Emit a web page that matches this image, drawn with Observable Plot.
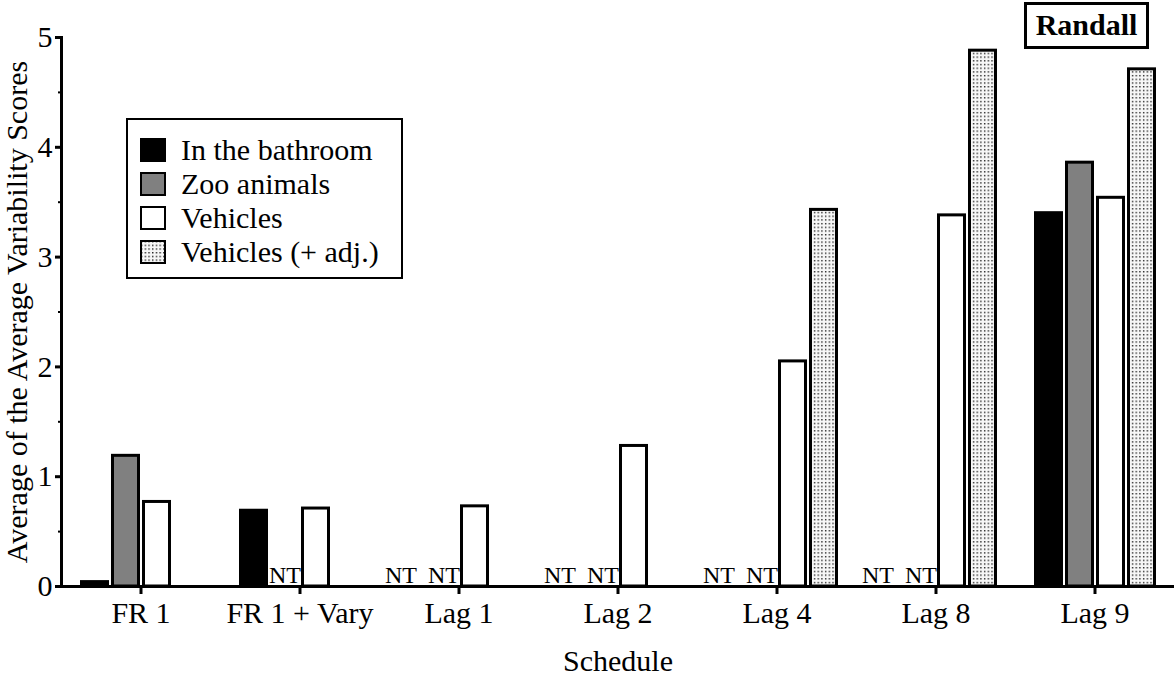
<!DOCTYPE html>
<html>
<head>
<meta charset="utf-8">
<script src="https://cdn.jsdelivr.net/npm/d3@7"></script>
<script src="https://cdn.jsdelivr.net/npm/@observablehq/plot@0.6"></script>
<style>
  html, body { margin: 0; padding: 0; background: white; }
  #wrap { position: relative; width: 1176px; height: 678px; font-family: "Liberation Serif", "DejaVu Serif", serif; color: black; }
  #wrap svg text { font-family: "Liberation Serif", serif; }
  #legend { position: absolute; left: 126px; top: 118px; width: 277px; height: 161px; box-sizing: border-box; border: 2px solid black; background: white; }
  .row { position: absolute; left: 0; height: 34px; width: 100%; }
  .row svg { position: absolute; left: 12px; top: 5px; }
  .row span { position: absolute; left: 53px; top: 0; font-size: 30px; line-height: 34px; white-space: nowrap; }
  #randall { position: absolute; left: 1024px; top: 2px; width: 125px; height: 47px; box-sizing: border-box; border: 3px solid black; font-weight: bold; font-size: 30px; line-height: 40px; text-align: center; background: white; }
</style>
</head>
<body>
<div id="wrap"></div>
<script>
// ---- data ----
const schedules = ["FR 1", "FR 1 + Vary", "Lag 1", "Lag 2", "Lag 4", "Lag 8", "Lag 9"];
const seriesNames = ["In the bathroom", "Zoo animals", "Vehicles", "Vehicles (+ adj.)"];
const bathroom    = [0.04, 0.69, "NT", "NT", "NT", "NT", 3.40];
const zooAnimals  = [1.19, "NT", "NT", "NT", "NT", "NT", 3.86];
const vehicles    = [0.77, 0.71, 0.73, 1.28, 2.05, 3.38, 3.54];
const vehiclesAdj = [null, null, null, null, 3.43, 4.88, 4.71];
const yTicks = [0, 1, 2, 3, 4, 5];
const yMinorTicks = [0.5, 1.5, 2.5, 3.5, 4.5];
const fills = ["black", "#808080", "white", "url(#dots)"];
const yLabel = "Average of the Average Variability Scores";
const xLabel = "Schedule";
const panelLabel = "Randall";

// ---- derived tables ----
const seriesValues = [bathroom, zooAnimals, vehicles, vehiclesAdj];
const bars = [], notTested = [];
seriesValues.forEach((vals, si) => {
  vals.forEach((v, i) => {
    const row = {schedule: schedules[i], series: seriesNames[si], value: v};
    if (typeof v === "number") bars.push(row);
    else if (v === "NT") notTested.push(row);
  });
});

const chart = Plot.plot({
  width: 1176,
  height: 678,
  marginLeft: 58,
  marginRight: 0,
  marginTop: 37,
  marginBottom: 92,
  style: {fontFamily: "Liberation Serif", fontSize: "30px", color: "black", background: "white"},
  fx: {domain: schedules, padding: 0},
  x: {domain: seriesNames, paddingInner: 0, paddingOuter: 0.5, axis: null},
  y: {domain: [0, 5]},
  color: {domain: seriesNames, range: fills},
  marks: [
    Plot.barY(bars, {fx: "schedule", x: "series", y: "value", fill: "series", stroke: "black", strokeWidth: 3, insetLeft: 2.5, insetRight: 2.5}),
    Plot.text(notTested.filter(d => d.series === seriesNames[0]), {fx: "schedule", x: "series", y: 0, text: "value", dx: -12, dy: -4, lineAnchor: "bottom", fontSize: 24}),
    Plot.text(notTested.filter(d => d.series === seriesNames[1]), {fx: "schedule", x: "series", y: 0, text: "value", dx: 0, dy: -4, lineAnchor: "bottom", fontSize: 24}),
    Plot.ruleY([0], {strokeWidth: 3}),
    Plot.frame({anchor: "left", strokeWidth: 3, facetAnchor: "left"}),
    Plot.axisY({ticks: yMinorTicks, tickSize: 3, strokeWidth: 2, tickFormat: () => "", label: null}),
    Plot.axisY({ticks: yTicks, tickSize: 6, tickPadding: 3, strokeWidth: 3, fontSize: 30, tickFormat: d3.format("d"),
      label: yLabel, labelAnchor: "center", labelOffset: 56, labelArrow: "none"}),
    Plot.axisFx({anchor: "bottom", tickSize: 8, tickPadding: 7, strokeWidth: 3, fontSize: 30,
      label: xLabel, labelAnchor: "center", labelOffset: 84, labelArrow: "none"})
  ]
});

// pattern for dotted fill
const NS = "http://www.w3.org/2000/svg";
function addPattern(svg) {
  const defs = document.createElementNS(NS, "defs");
  const pat = document.createElementNS(NS, "pattern");
  pat.setAttribute("id", "dots");
  pat.setAttribute("width", "3.7");
  pat.setAttribute("height", "3.7");
  pat.setAttribute("patternUnits", "userSpaceOnUse");
  const bg = document.createElementNS(NS, "rect");
  bg.setAttribute("width", "3.7"); bg.setAttribute("height", "3.7"); bg.setAttribute("fill", "#f7f7f7");
  const dot = document.createElementNS(NS, "rect");
  dot.setAttribute("x", "1"); dot.setAttribute("y", "1");
  dot.setAttribute("width", "1.3"); dot.setAttribute("height", "1.3"); dot.setAttribute("fill", "black");
  pat.appendChild(bg); pat.appendChild(dot); defs.appendChild(pat);
  svg.insertBefore(defs, svg.firstChild);
}
addPattern(chart);

const wrap = document.getElementById("wrap");
wrap.appendChild(chart);

// legend
const legend = document.createElement("div");
legend.id = "legend";
const rowTops = [13, 47, 81, 115];
seriesNames.forEach((name, i) => {
  const row = document.createElement("div");
  row.className = "row";
  row.style.top = rowTops[i] + "px";
  const sw = document.createElementNS(NS, "svg");
  sw.setAttribute("width", "26"); sw.setAttribute("height", "24");
  const r = document.createElementNS(NS, "rect");
  r.setAttribute("x", "1"); r.setAttribute("y", "1"); r.setAttribute("width", "24"); r.setAttribute("height", "22");
  r.setAttribute("fill", fills[i]); r.setAttribute("stroke", "black"); r.setAttribute("stroke-width", "2");
  sw.appendChild(r);
  const t = document.createElement("span");
  t.textContent = name;
  row.appendChild(sw); row.appendChild(t);
  legend.appendChild(row);
});
wrap.appendChild(legend);

const rb = document.createElement("div");
rb.id = "randall";
rb.textContent = panelLabel;
wrap.appendChild(rb);
</script>
</body>
</html>
